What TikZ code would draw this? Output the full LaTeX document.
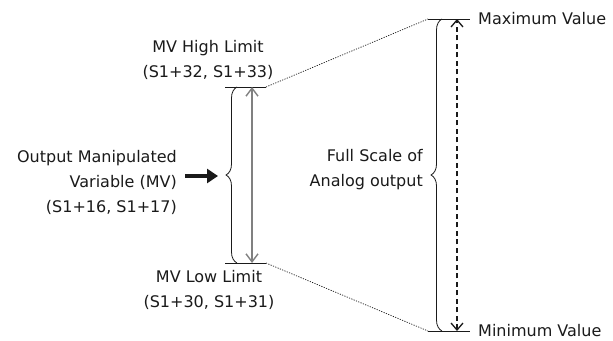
\documentclass[tikz,border=0pt]{standalone}
\usepackage{fontspec}
\setmainfont{DejaVu Sans}
\usetikzlibrary{arrows.meta,decorations.pathreplacing}
\definecolor{txt}{HTML}{1A1A1A}
\definecolor{midgray}{HTML}{808080}
\begin{document}
\begin{tikzpicture}[x=1pt,y=-1pt,
  lbl/.style={font=\fontsize{16}{25}\selectfont, text=txt, inner sep=0pt},
  limitline/.style={line width=0.8pt, draw=txt},
  bracestyle/.style={decorate, decoration={brace, amplitude=11pt}, line width=0.8pt, draw=txt},
  guide/.style={line width=0.7pt, draw=txt, dash pattern=on 1.2pt off 1.3pt},
  mvarrow/.style={line width=1.4pt, draw=midgray, {Straight Barb[length=8pt,width=12pt]}-{Straight Barb[length=8pt,width=12pt]}},
  fsarrow/.style={line width=2.4pt, draw=txt, dash pattern=on 5pt off 3.5pt,
     {Straight Barb[length=7pt,width=12pt,line width=1.3pt]}-{Straight Barb[length=7pt,width=12pt,line width=1.3pt]}},
  inarrow/.style={line width=4.5pt, draw=txt, -{Triangle[length=11pt,width=14pt]}}]
\useasboundingbox (0,0) rectangle (613,340);

% coordinates
\coordinate (lt1) at (225,87);  \coordinate (lt2) at (266,87);
\coordinate (lb1) at (225,263); \coordinate (lb2) at (266,263);
\coordinate (rt1) at (428,19);  \coordinate (rt2) at (470,19);
\coordinate (rb1) at (428,331); \coordinate (rb2) at (470,331);
\coordinate (lbt) at (237,87);  \coordinate (lbb) at (237,263);
\coordinate (rbt) at (442,19);  \coordinate (rbb) at (442,331);
\coordinate (gat) at (252,87);  \coordinate (gab) at (252,263);
\coordinate (dat) at (457,19);  \coordinate (dab) at (457,331);
\coordinate (ia1) at (185,176); \coordinate (ia2) at (218,176);

% limit lines
\draw[limitline] (lt1) -- (lt2);
\draw[limitline] (lb1) -- (lb2);
\draw[limitline] (rt1) -- (rt2);
\draw[limitline] (rb1) -- (rb2);

% guides
\draw[guide] (lt2) -- (rt1);
\draw[guide] (lb2) -- (rb1);

% braces
\draw[bracestyle] (lbb) -- (lbt);
\draw[bracestyle] (rbb) -- (rbt);

% arrows
\draw[mvarrow] (gab) -- (gat);
\draw[fsarrow] (dab) -- (dat);
\draw[inarrow] (ia1) -- (ia2);

% texts
\node[lbl, align=right, anchor=east] (mv) at (177,182) {Output Manipulated\\Variable (MV)\\(S1+16, S1+17)};
\node[lbl, align=center] (hi) at (208,60) {MV High Limit\\(S1+32, S1+33)};
\node[lbl, align=center] (lo) at (209,290) {MV Low Limit\\(S1+30, S1+31)};
\node[lbl, align=right, anchor=east] (fs) at (423,170) {Full Scale of\\Analog output};
\node[lbl, anchor=west] (maxv) at (478,19) {Maximum Value};
\node[lbl, anchor=west] (minv) at (478,331) {Minimum Value};
\end{tikzpicture}
\end{document}
